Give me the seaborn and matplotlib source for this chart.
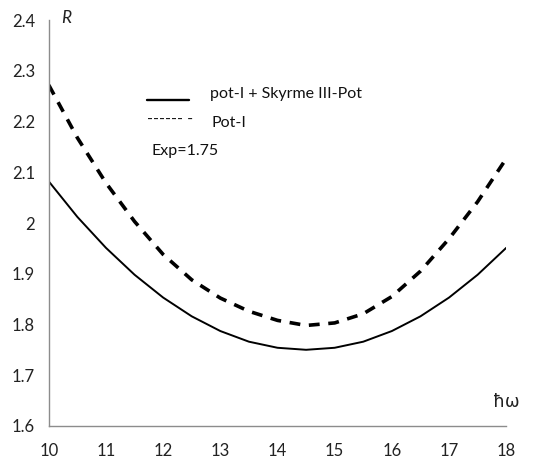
import matplotlib
matplotlib.use("Agg")
import matplotlib.pyplot as plt
import seaborn as sns
import pandas as pd

# Oscillator energy (hbar*omega) grid and radius values for both potentials
hw = [10, 10.5, 11, 11.5, 12, 12.5, 13, 13.5, 14, 14.5, 15, 15.5, 16, 16.5, 17, 17.5, 18]
r_skyrme = [2.082, 2.012, 1.951, 1.898, 1.853, 1.816, 1.787, 1.766, 1.754, 1.750,
            1.754, 1.766, 1.787, 1.816, 1.853, 1.898, 1.951]
r_pot1 = [2.272, 2.168, 2.079, 2.003, 1.938, 1.888, 1.852, 1.826, 1.808, 1.798,
          1.803, 1.821, 1.855, 1.905, 1.969, 2.042, 2.127]

x_ticks = [10, 11, 12, 13, 14, 15, 16, 17, 18]
y_ticks = [1.6, 1.7, 1.8, 1.9, 2.0, 2.1, 2.2, 2.3, 2.4]
y_tick_labels = ["1.6", "1.7", "1.8", "1.9", "2", "2.1", "2.2", "2.3", "2.4"]

df = pd.DataFrame({"hw": hw, "skyrme": r_skyrme, "pot1": r_pot1})

sns.set_theme(style="white")
plt.rcParams["font.family"] = ["Lato", "DejaVu Sans"]

fig = plt.figure(figsize=(5.42, 4.68), dpi=100)
ax = fig.add_axes([0.090, 0.090, 0.844, 0.867])

sns.lineplot(data=df, x="hw", y="skyrme", ax=ax, color="black", linewidth=1.4)
sns.lineplot(data=df, x="hw", y="pot1", ax=ax, color="black", linewidth=2.6,
             linestyle=(0, (3.0, 2.4)))

ax.set_xlim(10, 18)
ax.set_ylim(1.6, 2.4)
ax.set_xticks(x_ticks)
ax.set_yticks(y_ticks)
ax.set_yticklabels(y_tick_labels)
ax.set_xlabel("")
ax.set_ylabel("")

for side in ("top", "right"):
    ax.spines[side].set_visible(False)
for side in ("left", "bottom"):
    ax.spines[side].set_color("#8c8c8c")
    ax.spines[side].set_linewidth(1.0)
ax.tick_params(axis="both", which="major", direction="out", length=5, width=1,
               color="#8c8c8c", labelcolor="#222222", labelsize=12, pad=5)
ax.tick_params(axis="x", pad=7)

# axis captions
ax.text(0.027, 1.005, "R", transform=ax.transAxes, fontsize=12.5, style="italic",
        color="#222222", ha="left", va="center")
ax.text(1.0, 0.06, "ħω", transform=ax.transAxes, fontsize=12.5,
        color="#222222", ha="center", va="center", family=["DejaVu Sans"])

# hand-made key
ax.plot([0.214, 0.306], [0.803, 0.803], transform=ax.transAxes, color="black",
        linewidth=1.7)
ax.text(0.353, 0.807, "pot-I + Skyrme III-Pot", transform=ax.transAxes,
        fontsize=11.5, color="#111111", ha="left", va="baseline")
ax.text(0.214, 0.757, "------ -", transform=ax.transAxes, fontsize=11.5,
        color="#111111", ha="left", va="center")
ax.text(0.355, 0.737, "Pot-I", transform=ax.transAxes, fontsize=11.5,
        color="#111111", ha="left", va="baseline")
ax.text(0.224, 0.667, "Exp=1.75", transform=ax.transAxes, fontsize=11.5,
        color="#111111", ha="left", va="baseline")

fig.savefig("out.png", dpi=100)
